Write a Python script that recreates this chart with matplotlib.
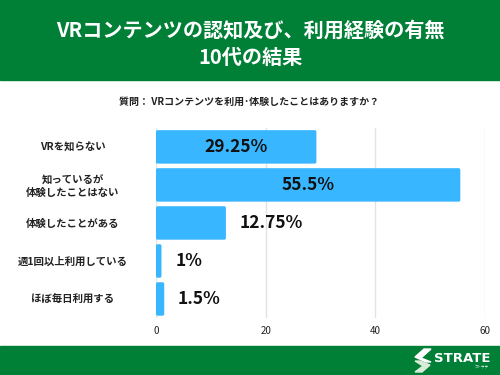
import matplotlib.pyplot as plt
from matplotlib.patches import Rectangle, FancyBboxPatch, Polygon

plt.rcParams['font.family'] = ['Noto Sans CJK JP', 'DejaVu Sans']

categories = ['VRを知らない', '知っているが\n体験したことはない', '体験したことがある',
              '週1回以上利用している', 'ほぼ毎日利用する']
values = [29.25, 55.5, 12.75, 1, 1.5]
labels = ['29.25%', '55.5%', '12.75%', '1%', '1.5%']
inside = [True, True, False, False, False]

green = '#007f36'
blue = '#38b6ff'

fig = plt.figure(figsize=(5, 3.75), dpi=100)


def px(x, y):
    # pixel position -> figure fraction
    return (x / 500, 1 - y / 375)


# header and footer bands
fig.patches.append(Rectangle((0, 1 - 80 / 375), 1, 80 / 375, transform=fig.transFigure,
                             color=green, zorder=0))
fig.patches.append(Rectangle((0, 0), 1, 29 / 375, transform=fig.transFigure,
                             color=green, zorder=0))
fig.text(0.5, 1 - 30 / 375, 'VRコンテンツの認知及び、利用経験の有無', color='white',
         fontsize=14.5, fontweight='bold', ha='center', va='center')
fig.text(0.5, 1 - 57 / 375, '10代の結果', color='white',
         fontsize=14.5, fontweight='bold', ha='center', va='center')
fig.text(0.498, 1 - 102 / 375, '質問： VRコンテンツを利用･体験したことはありますか？',
         fontsize=7.2, fontweight='bold', ha='center', va='center', color='#222222')

# footer logo
top_piece = [px(424, 349), px(431, 349), px(421, 358), px(431, 362), px(426, 362), px(415, 357)]
bot_piece = [px(415, 361), px(420, 361), px(430, 365), px(422, 372), px(415, 372), px(423, 366)]
fig.patches.append(Polygon(top_piece, closed=True, transform=fig.transFigure, color='white'))
fig.patches.append(Polygon(bot_piece, closed=True, transform=fig.transFigure, color='#d8ecd8'))
fig.text(462 / 500, 1 - 358 / 375, 'STRATE', color='white', fontsize=9.5, fontweight='bold',
         ha='center', va='center', family='DejaVu Sans')
fig.text(482 / 500, 1 - 367 / 375, 'ストラテ', color='white', fontsize=2.5,
         ha='center', va='center')

ax = fig.add_axes([0.312, 0.152, 0.658, 0.507])
ypos = list(range(len(categories)))
for y, v in zip(ypos, values):
    ax.add_patch(FancyBboxPatch((0, y - 0.44), v, 0.88,
                                boxstyle='round,pad=0,rounding_size=0.3',
                                mutation_aspect=0.15, color=blue, zorder=3, lw=0))
for y, v, lab, ins in zip(ypos, values, labels, inside):
    if ins:
        ax.text(v / 2, y, lab, ha='center', va='center', fontsize=12.5,
                fontweight='bold', color='#111111', zorder=4)
    else:
        ax.text(v + 2.5, y, lab, ha='left', va='center', fontsize=12.5,
                fontweight='bold', color='#111111', zorder=4)

ax.set_xlim(0, 60)
ax.set_ylim(len(categories) - 0.5, -0.5)
ax.set_yticks(ypos)
ax.set_yticklabels(categories, fontsize=7.5, fontweight='bold', color='#222222')
ax.set_xticks([0, 20, 40, 60])
ax.tick_params(axis='x', labelsize=7, length=0, pad=6, labelcolor='#222222')
ax.tick_params(axis='y', length=0, pad=60)
for t in ax.get_yticklabels():
    t.set_horizontalalignment('center')
ax.grid(axis='x', color='#e3e3e3', lw=1, zorder=0)
for s in ax.spines.values():
    s.set_visible(False)

fig.savefig('out.png', dpi=100)
